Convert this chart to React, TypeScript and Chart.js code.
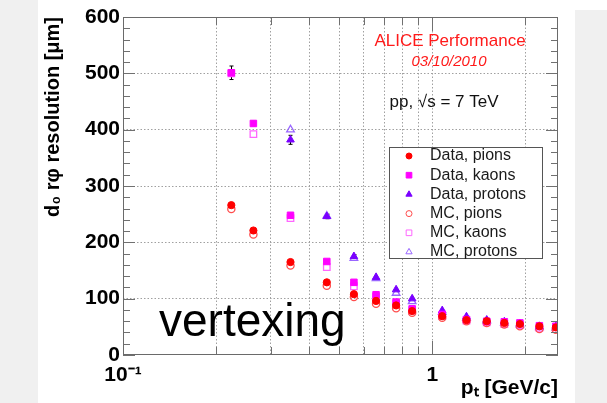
import React, { useEffect, useRef } from 'react';
import { Chart, registerables } from 'chart.js';

Chart.register(...registerables);

// ---- data ----
const momenta = [0.224, 0.264, 0.348, 0.456, 0.558, 0.658, 0.764, 0.861, 1.077, 1.29, 1.5, 1.71, 1.92, 2.22, 2.51];
const dataPions = [266, 221, 165, 129, 108, 96, 88, 78, 69, 62, 60, 57, 55, 51, 49];
const dataKaons = [501, 411, 248, 166, 129, 107, 94, 82, 72, 63, 60, 59, 57, 52, 51];
const dataProtons = [null, null, 382, 246, 175, 138, 116, 100, 79, 68, 62, 59, 56, 51, 51];
const mcPions = [259, 214, 159, 123, 103, 91, 83, 75, 66, 60, 57, 54, 51, 46, 45];
const mcKaons = [500, 392, 243, 156, 122, 103, 91, 79, 69, 61, 58, 55, 53, 48, 46];
const mcProtons = [null, null, 400, 247, 172, 136, 110, 95, 76, 66, 61, 57, 54, 49, 48];
const dataKaonErrors = [12, 4, 3, 2, 2, 1, 1, 1, 1, 1, 1, 1, 1, 1, 1];
const dataProtonErrors = [0, 0, 8, 4, 3, 2, 2, 1, 1, 1, 1, 1, 1, 1, 1];

const seriesLabels = ['Data, pions', 'Data, kaons', 'Data, protons', 'MC, pions', 'MC, kaons', 'MC, protons'];
const xGridValues = [0.1, 0.2, 0.3, 0.4, 0.5, 0.6, 0.7, 0.8, 0.9, 1, 2];
const yTickStep = 100;
const yMinorStep = 20;
const xTitle = 'pₜ [GeV/c]';
const yTitle = 'd₀ rφ resolution [μm]';
const annotationTitle = 'ALICE Performance';
const annotationDate = '03/10/2010';
const annotationEnergy = 'pp, √s = 7 TeV';
const watermark = 'vertexing';

const FONT = '"Liberation Sans", Arial, Helvetica, sans-serif';

function pts(values: (number | null)[]) {
  return momenta
    .map((x, i) => ({ x, y: values[i] }))
    .filter((p) => p.y !== null) as { x: number; y: number }[];
}

function drawMarker(ctx: CanvasRenderingContext2D, style: string, x: number, y: number, r: number, fill: string, stroke: string, lw: number) {
  ctx.save();
  ctx.beginPath();
  if (style === 'circle') {
    ctx.arc(x, y, r, 0, Math.PI * 2);
  } else if (style === 'rect') {
    const s = Math.SQRT1_2 * r;
    ctx.rect(x - s, y - s, 2 * s, 2 * s);
  } else {
    const a = Math.PI / 2;
    for (let k = 0; k < 3; k++) {
      const ang = -a + (k * 2 * Math.PI) / 3;
      const px = x + Math.cos(ang) * r;
      const py = y + Math.sin(ang) * r;
      if (k === 0) ctx.moveTo(px, py);
      else ctx.lineTo(px, py);
    }
    ctx.closePath();
  }
  if (fill !== 'transparent') {
    ctx.fillStyle = fill;
    ctx.fill();
  }
  ctx.lineWidth = lw;
  ctx.strokeStyle = stroke;
  ctx.stroke();
  ctx.restore();
}

const decorPlugin = {
  id: 'rootDecor',
  beforeDatasetsDraw(chart: any) {
    const { ctx } = chart;
    const xs = chart.scales.x;
    const ys = chart.scales.y;
    ctx.save();
    ctx.strokeStyle = '#000';
    ctx.lineWidth = 1;
    chart.data.datasets.forEach((ds: any) => {
      if (!ds.errors) return;
      ds.data.forEach((p: any) => {
        const idx = momenta.indexOf(p.x);
        const e = ds.errors[idx];
        if (!e || e < 3) return;
        const px = Math.round(xs.getPixelForValue(p.x)) + 0.5;
        const y1 = ys.getPixelForValue(p.y + e);
        const y2 = ys.getPixelForValue(p.y - e);
        ctx.beginPath();
        ctx.moveTo(px, y1);
        ctx.lineTo(px, y2);
        ctx.moveTo(px - 2, y1);
        ctx.lineTo(px + 2, y1);
        ctx.moveTo(px - 2, y2);
        ctx.lineTo(px + 2, y2);
        ctx.stroke();
      });
    });
    ctx.restore();
  },
  afterDatasetsDraw(chart: any) {
    const { ctx, chartArea } = chart;
    const { left, right, top, bottom } = chartArea;
    const xs = chart.scales.x;
    const ys = chart.scales.y;
    ctx.save();
    ctx.strokeStyle = '#707070';
    ctx.lineWidth = 1;
    ctx.beginPath();
    for (let v = 0; v <= 600; v += yMinorStep) {
      const y = Math.round(ys.getPixelForValue(v)) + 0.5;
      const len = v % yTickStep === 0 ? 12 : 7;
      ctx.moveTo(left, y);
      ctx.lineTo(left + len, y);
      ctx.moveTo(right, y);
      ctx.lineTo(right - len, y);
    }
    xGridValues.forEach((v) => {
      const x = Math.round(xs.getPixelForValue(v)) + 0.5;
      const len = v === 0.1 || v === 1 ? 14 : 8;
      ctx.moveTo(x, bottom);
      ctx.lineTo(x, bottom - len);
      ctx.moveTo(x, top);
      ctx.lineTo(x, top + len);
    });
    ctx.stroke();
    ctx.strokeStyle = '#6a6a6a';
    ctx.strokeRect(Math.round(left) + 0.5, Math.round(top) + 0.5, Math.round(right - left) - 1, Math.round(bottom - top) - 1);
    ctx.restore();
  },
  afterDraw(chart: any) {
    const { ctx } = chart;
    ctx.save();
    ctx.textAlign = 'center';
    ctx.textBaseline = 'middle';
    ctx.fillStyle = '#ff1a1a';
    ctx.font = `17px ${FONT}`;
    ctx.fillText(annotationTitle, 450, 41);
    ctx.font = `italic 15px ${FONT}`;
    ctx.fillText(annotationDate, 449, 62);
    ctx.fillStyle = '#111';
    ctx.font = `17px ${FONT}`;
    ctx.fillText(annotationEnergy, 444, 102);
    ctx.textAlign = 'left';
    ctx.textBaseline = 'alphabetic';
    ctx.fillStyle = '#000';
    ctx.font = `46px ${FONT}`;
    ctx.fillText(watermark, 159, 336);

    const bx = 389.5, by = 147.5, bw = 153, bh = 111;
    ctx.fillStyle = '#fff';
    ctx.fillRect(bx, by, bw, bh);
    ctx.strokeStyle = '#555';
    ctx.lineWidth = 1;
    ctx.strokeRect(bx, by, bw, bh);
    ctx.font = `16px ${FONT}`;
    ctx.textBaseline = 'middle';
    ctx.textAlign = 'left';
    chart.data.datasets.forEach((ds: any, i: number) => {
      const y = 156 + i * 19.2;
      const r = ds.pointStyle === 'rect' ? 4 : ds.pointStyle === 'triangle' ? 3.6 : 3;
      drawMarker(ctx, ds.pointStyle, 409, y, r, ds.pointBackgroundColor, ds.pointBorderColor, 1);
      ctx.fillStyle = '#1a1a1a';
      ctx.fillText(ds.label, 430, y);
    });
    ctx.restore();
  },
};

function mkDataset(label: string, values: (number | null)[], style: string, color: string, filled: boolean, radius: number, errors?: number[]) {
  return {
    label,
    data: pts(values),
    pointStyle: style,
    pointRadius: radius,
    pointHoverRadius: radius,
    pointBackgroundColor: filled ? color : 'transparent',
    pointBorderColor: color,
    pointBorderWidth: filled ? 1 : 1.3,
    showLine: false,
    errors,
  };
}

export default function App() {
  const canvasRef = useRef<HTMLCanvasElement>(null);

  useEffect(() => {
    document.body.style.margin = '0';
    const canvas = canvasRef.current;
    if (!canvas) return;
    const chart = new Chart(canvas, {
      type: 'scatter',
      data: {
        datasets: [
          mkDataset(seriesLabels[0], dataPions, 'circle', '#ff0000', true, 3.6),
          mkDataset(seriesLabels[1], dataKaons, 'rect', '#ff00ff', true, 4.6, dataKaonErrors),
          mkDataset(seriesLabels[2], dataProtons, 'triangle', '#7a00ff', true, 4.4, dataProtonErrors),
          mkDataset(seriesLabels[3], mcPions, 'circle', '#ff4d4d', false, 3.6),
          mkDataset(seriesLabels[4], mcKaons, 'rect', '#ff66ff', false, 4.6),
          mkDataset(seriesLabels[5], mcProtons, 'triangle', '#9966ff', false, 4.4),
        ] as any,
      },
      options: {
        animation: false,
        responsive: false,
        devicePixelRatio: 1,
        layout: { padding: { left: 38, top: 17, right: 49, bottom: 0 } },
        plugins: { legend: { display: false }, tooltip: { enabled: false } },
        scales: {
          x: {
            type: 'logarithmic',
            min: 0.1,
            max: 2.55,
            afterBuildTicks: (s: any) => {
              s.ticks = xGridValues.map((v) => ({ value: v }));
            },
            afterFit: (s: any) => {
              s.height = 48;
            },
            ticks: {
              autoSkip: false,
              maxRotation: 0,
              padding: 8,
              color: '#000',
              font: { family: FONT, size: 21, weight: 'bold' },
              callback: (v: any) => (v === 0.1 ? '10⁻¹' : v === 1 ? '1' : ''),
            },
            grid: {
              drawTicks: false,
              color: (c: any) => (c.tick && c.tick.value === 0.1 ? 'rgba(0,0,0,0)' : '#a0a0a0'),
              lineWidth: 1,
            },
            border: { display: false, dash: [1.5, 2] },
            title: {
              display: true,
              text: xTitle,
              align: 'end',
              color: '#000',
              font: { family: FONT, size: 21, weight: 'bold' },
              padding: { top: 0, bottom: 2 },
            },
          },
          y: {
            min: 0,
            max: 600,
            afterFit: (s: any) => {
              s.width = 85;
            },
            ticks: {
              stepSize: yTickStep,
              padding: 3,
              color: '#000',
              font: { family: FONT, size: 21, weight: 'bold' },
            },
            grid: {
              drawTicks: false,
              color: (c: any) => (c.tick && (c.tick.value === 0 || c.tick.value === 600) ? 'rgba(0,0,0,0)' : '#a0a0a0'),
              lineWidth: 1,
            },
            border: { display: false, dash: [1.5, 2] },
            title: {
              display: true,
              text: yTitle,
              align: 'end',
              color: '#000',
              font: { family: FONT, size: 20, weight: 'bold' },
              padding: { top: 3, bottom: 0 },
            },
          },
        },
      } as any,
      plugins: [decorPlugin],
    });
    return () => chart.destroy();
  }, []);

  return (
    <div style={{ position: 'relative', width: 607, height: 403, background: '#ffffff', overflow: 'hidden' }}>
      <div style={{ position: 'absolute', left: 0, top: 0, width: 38, height: 403, background: '#f0f0f0' }} />
      <div style={{ position: 'absolute', left: 575, top: 10, width: 32, height: 393, background: '#f0f0f0' }} />
      <canvas ref={canvasRef} width={607} height={403} style={{ position: 'absolute', left: 0, top: 0, width: 607, height: 403 }} />
    </div>
  );
}
